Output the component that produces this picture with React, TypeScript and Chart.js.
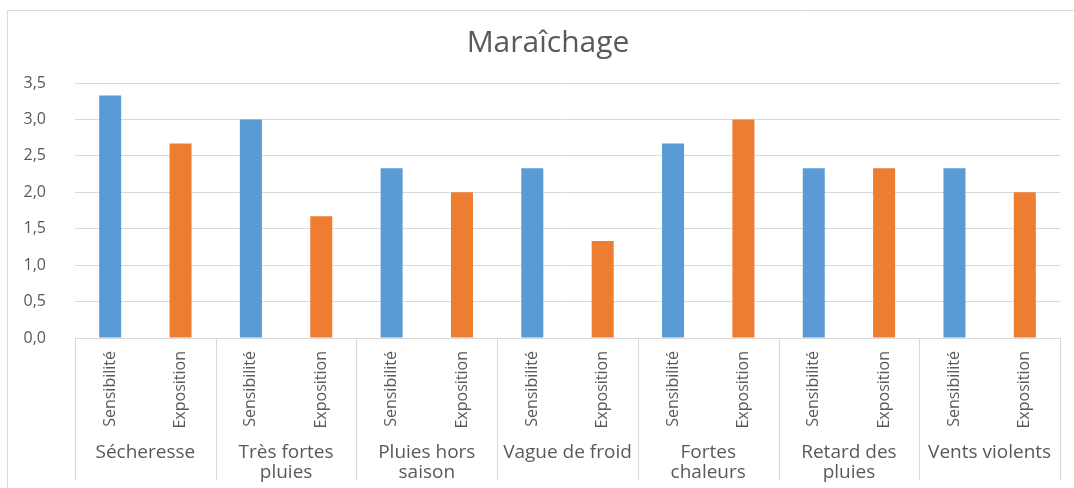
import React, { useEffect, useRef } from "react";
import { Chart, registerables } from "chart.js";

Chart.register(...registerables);

const chartTitle = "Maraîchage";
const hazards: string[][] = [
  ["Sécheresse"],
  ["Très fortes", "pluies"],
  ["Pluies hors", "saison"],
  ["Vague de froid"],
  ["Fortes", "chaleurs"],
  ["Retard des", "pluies"],
  ["Vents violents"],
];
const indicators = ["Sensibilité", "Exposition"];
const sensibilite = [3.33, 3.0, 2.33, 2.33, 2.67, 2.33, 2.33];
const exposition = [2.67, 1.67, 2.0, 1.33, 3.0, 2.33, 2.0];
const indicatorColors = ["#5B9BD5", "#ED7D31"];
const yMin = 0;
const yMax = 3.5;
const yStep = 0.5;

const TEXT = "#595959";
const LINE = "#d9d9d9";
const FONT = "'Open Sans', sans-serif";

export default function App() {
  const ref = useRef<HTMLCanvasElement | null>(null);

  useEffect(() => {
    if (!ref.current) return;
    const labels: string[] = [];
    const values: number[] = [];
    const colors: string[] = [];
    hazards.forEach((_, i) => {
      labels.push(indicators[0], indicators[1]);
      values.push(sensibilite[i], exposition[i]);
      colors.push(indicatorColors[0], indicatorColors[1]);
    });

    const frame = {
      id: "frame",
      beforeDraw(chart: any) {
        const ctx = chart.ctx;
        ctx.save();
        ctx.strokeStyle = LINE;
        ctx.lineWidth = 1;
        ctx.beginPath();
        ctx.moveTo(7.5, chart.height);
        ctx.lineTo(7.5, 10.5);
        ctx.lineTo(chart.width, 10.5);
        ctx.stroke();
        ctx.restore();
      },
      afterDraw(chart: any) {
        const x = chart.scales.x;
        const ctx = chart.ctx;
        const half = (x.getPixelForValue(1) - x.getPixelForValue(0)) / 2;
        ctx.save();
        ctx.strokeStyle = LINE;
        ctx.lineWidth = 1;
        ctx.beginPath();
        for (let i = 0; i <= labels.length; i += 2) {
          const px =
            i < labels.length
              ? x.getPixelForValue(i) - half
              : x.getPixelForValue(labels.length - 1) + half;
          const xx = Math.round(px) + 0.5;
          ctx.moveTo(xx, chart.chartArea.bottom);
          ctx.lineTo(xx, 480);
        }
        ctx.stroke();
        // title
        ctx.fillStyle = TEXT;
        ctx.font = `normal 30px ${FONT}`;
        ctx.textAlign = "center";
        ctx.textBaseline = "middle";
        ctx.fillText(chartTitle, 548, 43);
        ctx.restore();
      },
    };

    const chart = new Chart(ref.current, {
      type: "bar",
      data: {
        labels,
        datasets: [
          {
            label: chartTitle,
            data: values,
            backgroundColor: colors,
            xAxisID: "x",
            yAxisID: "y",
            barPercentage: 0.313,
            categoryPercentage: 1,
          },
        ],
      },
      options: {
        responsive: false,
        animation: false,
        devicePixelRatio: 1,
        layout: { padding: { left: 0, right: 14, top: 83, bottom: 0 } },
        plugins: {
          legend: { display: false },
          tooltip: { enabled: false },
          title: { display: false },
        },
        scales: {
          x: {
            type: "category",
            position: "bottom",
            offset: true,
            grid: { display: false, drawTicks: false },
            border: { display: true, color: LINE },
            ticks: {
              autoSkip: false,
              maxRotation: 90,
              minRotation: 90,
              padding: 13,
              color: TEXT,
              font: { family: FONT, size: 16 },
            },
            afterFit(scale: any) {
              scale.height = 92;
            },
          },
          x2: {
            type: "category",
            position: "bottom",
            labels: hazards as any,
            offset: true,
            grid: { display: false, drawTicks: false },
            border: { display: false },
            ticks: {
              autoSkip: false,
              maxRotation: 0,
              minRotation: 0,
              padding: 12,
              color: TEXT,
              font: { family: FONT, size: 19, lineHeight: 1.08 },
            },
            afterFit(scale: any) {
              scale.height = 58;
            },
          },
          y: {
            min: yMin,
            max: yMax,
            grid: { color: LINE, drawTicks: false },
            border: { display: false },
            ticks: {
              stepSize: yStep,
              padding: 29,
              color: TEXT,
              font: { family: FONT, size: 16 },
              callback: (v: any) => Number(v).toFixed(1).replace(".", ","),
            },
            afterFit(scale: any) {
              scale.width = 75;
            },
          },
        },
      },
      plugins: [frame],
    });
    return () => chart.destroy();
  }, []);

  return (
    <div style={{ position: "fixed", left: 0, top: 0, width: 1074, height: 488, background: "#fff" }}>
      <canvas ref={ref} width={1074} height={488} />
    </div>
  );
}
